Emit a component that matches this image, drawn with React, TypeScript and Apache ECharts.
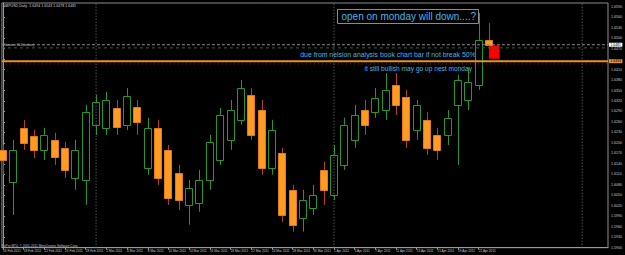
import { useEffect, useRef } from "react";
import * as echarts from "echarts";

const dates = [
  "16 Feb 2011", "17 Feb 2011", "18 Feb 2011", "21 Feb 2011", "22 Feb 2011", "23 Feb 2011", "24 Feb 2011", "25 Feb 2011",
  "28 Feb 2011", "1 Mar 2011", "2 Mar 2011", "3 Mar 2011", "4 Mar 2011", "7 Mar 2011", "8 Mar 2011", "9 Mar 2011",
  "10 Mar 2011", "11 Mar 2011", "14 Mar 2011", "15 Mar 2011", "16 Mar 2011", "17 Mar 2011", "18 Mar 2011", "21 Mar 2011",
  "22 Mar 2011", "23 Mar 2011", "24 Mar 2011", "25 Mar 2011", "28 Mar 2011", "29 Mar 2011", "30 Mar 2011", "31 Mar 2011",
  "1 Apr 2011", "4 Apr 2011", "5 Apr 2011", "6 Apr 2011", "7 Apr 2011", "8 Apr 2011", "11 Apr 2011", "12 Apr 2011",
  "13 Apr 2011", "14 Apr 2011", "15 Apr 2011", "18 Apr 2011", "19 Apr 2011", "20 Apr 2011", "21 Apr 2011", "22 Apr 2011",
];

const opens = [
  1.6180, 1.6089, 1.6243, 1.6220, 1.6180, 1.6209, 1.6186, 1.6100, 1.6094, 1.6252, 1.6243, 1.6300,
  1.6252, 1.6303, 1.6129, 1.6243, 1.6180, 1.6114, 1.6023, 1.6028, 1.6094, 1.6151, 1.6209, 1.6266,
  1.6337, 1.6294, 1.6129, 1.6171, 1.6066, 1.5986, 1.6014, 1.6123, 1.6051, 1.6137, 1.6209, 1.6294,
  1.6289, 1.6294, 1.6366, 1.6332, 1.6237, 1.6266, 1.6223, 1.6223, 1.6309, 1.6323, 1.6366, 1.6494,
];
const highs = [
  1.6194, 1.6209, 1.6266, 1.6237, 1.6243, 1.6229, 1.6203, 1.6209, 1.6309, 1.6337, 1.6346, 1.6323,
  1.6357, 1.6323, 1.6272, 1.6266, 1.6194, 1.6137, 1.6094, 1.6123, 1.6223, 1.6300, 1.6323, 1.6380,
  1.6357, 1.6323, 1.6266, 1.6186, 1.6080, 1.6066, 1.6080, 1.6146, 1.6194, 1.6272, 1.6309, 1.6323,
  1.6357, 1.6400, 1.6400, 1.6352, 1.6323, 1.6289, 1.6243, 1.6294, 1.6395, 1.6415, 1.6572, 1.6543,
];
const lows = [
  1.6109, 1.5994, 1.6180, 1.6157, 1.6151, 1.6137, 1.6100, 1.6066, 1.6023, 1.6223, 1.6223, 1.6223,
  1.6237, 1.6223, 1.6109, 1.6080, 1.6023, 1.6008, 1.5966, 1.6003, 1.6066, 1.6137, 1.6180, 1.6252,
  1.6209, 1.6109, 1.6109, 1.5974, 1.5946, 1.5946, 1.5994, 1.6023, 1.6037, 1.6123, 1.6186, 1.6223,
  1.6272, 1.6266, 1.6280, 1.6186, 1.6209, 1.6166, 1.6151, 1.6194, 1.6137, 1.6294, 1.6352, 1.6478,
];
const closes = [
  1.6151, 1.6180, 1.6200, 1.6180, 1.6223, 1.6160, 1.6123, 1.6180, 1.6289, 1.6317, 1.6323, 1.6246,
  1.6335, 1.6260, 1.6243, 1.6100, 1.6043, 1.6037, 1.6071, 1.6094, 1.6203, 1.6280, 1.6294, 1.6357,
  1.6223, 1.6129, 1.6237, 1.5994, 1.5966, 1.6037, 1.6051, 1.6066, 1.6166, 1.6252, 1.6280, 1.6252,
  1.6329, 1.6352, 1.6309, 1.6209, 1.6309, 1.6186, 1.6180, 1.6272, 1.6380, 1.6375, 1.6495, 1.6481,
];

const dateLabelIdx = [0, 2, 4, 6, 8, 10, 12, 14, 16, 18, 20, 22, 24, 26, 28, 30, 32, 34, 36, 38, 40, 42, 44, 46];
const priceTicks = [
  1.5900, 1.5930, 1.5960, 1.5990, 1.6020, 1.6050, 1.6080, 1.6110, 1.6140, 1.6170, 1.6200, 1.6230,
  1.6260, 1.6290, 1.6320, 1.6350, 1.6380, 1.6410, 1.6440, 1.6470, 1.6500, 1.6530, 1.6560, 1.6590,
];
// the 1.6440 label sits under the orange level box, as on the reference
const priceLabels = [
  1.5900, 1.5930, 1.5960, 1.5990, 1.6020, 1.6050, 1.6080, 1.6110, 1.6140, 1.6170, 1.6200, 1.6230,
  1.6260, 1.6290, 1.6320, 1.6350, 1.6380, 1.6410, 1.6470, 1.6500, 1.6530, 1.6560, 1.6590,
];
const periodSeparators = [9, 32, 56];
const bidPrice = 1.6481;
const fiftyLevel = 1.6434;
const greenDashLevel = 1.6472;
const redDotLevel = 1.6426;
const redBox = [[47, 48, 1.6479, 1.6441]];

const symbolTitle = "GBPUSD,Daily  1.6494 1.6543 1.6478 1.6481";
const lineLabel = "Fibonacci 50.0 (nelson)";
const copyright = "FxPro MT4, \u00a9 2001-2011 MetaQuotes Software Corp.";
const noteBig = "open on monday will down....?";
const note1 = "due from nelsion analysis book chart bar if not break 50%";
const note2 = "it still bullish may go up nest monday";

const X_MIN = -0.105;
const X_MAX = 58.5;
const Y_MIN = 1.59;
const Y_MAX = 1.66005;

export default function App() {
  const ref = useRef<HTMLDivElement>(null);
  useEffect(() => {
    document.body.style.margin = "0";
    document.body.style.background = "#000";
    if (!ref.current) return;
    const chart = echarts.init(ref.current, undefined, { renderer: "svg" });

    const candleData = opens.map((o, i) => [i, o, highs[i], lows[i], closes[i]]);
    const hline = (p: number) => [[X_MIN, p], [X_MAX, p]];
    const vline = (x: number) => [[x, Y_MIN], [x, Y_MAX]];
    const axisFont = "Liberation Sans";

    const option: any = {
      animation: false,
      backgroundColor: "#000000",
      grid: {
        left: 1, right: 12.7, top: 3, bottom: 7.3,
        show: true, borderColor: "#8c8c8c", borderWidth: 1, backgroundColor: "#000",
      },
      xAxis: {
        type: "value", min: X_MIN, max: X_MAX,
        splitLine: { show: false },
        axisLine: { show: true, onZero: false, lineStyle: { color: "#9a9a9a", width: 1 } },
        axisTick: { show: true, customValues: dateLabelIdx, length: 2, lineStyle: { color: "#9a9a9a" } },
        axisLabel: {
          customValues: dateLabelIdx,
          formatter: (v: number) => dates[Math.round(v)] ?? "",
          color: "#c8c8c8", fontSize: 3.2, fontFamily: axisFont, align: "left", margin: 1.5,
        },
      },
      yAxis: {
        type: "value", position: "right", min: Y_MIN, max: Y_MAX, interval: 0.003,
        splitLine: { show: false },
        axisLine: { show: true, lineStyle: { color: "#9a9a9a", width: 1 } },
        axisTick: { show: true, customValues: priceTicks, length: 2, lineStyle: { color: "#9a9a9a" } },
        axisLabel: {
          customValues: priceLabels,
          formatter: (v: number) => v.toFixed(4),
          color: "#c8c8c8", fontSize: 3.6, fontFamily: axisFont, margin: 3,
        },
      },
      series: [
        ...periodSeparators.map((x) => ({
          type: "line", data: vline(x), symbol: "none", silent: true,
          lineStyle: { color: "#7a7a7a", width: 1, type: [1, 2] },
        })),
        {
          type: "line", data: hline(greenDashLevel), symbol: "none", silent: true,
          lineStyle: { color: "#2c6a2c", width: 1, type: [3, 3] },
        },
        {
          type: "line", data: hline(redDotLevel), symbol: "none", silent: true,
          lineStyle: { color: "#7a1c1c", width: 1, type: [1, 3] },
        },
        {
          type: "custom",
          data: redBox,
          silent: true,
          renderItem: (_p: any, api: any) => {
            const a = api.coord([api.value(0), api.value(2)]);
            const b = api.coord([api.value(1), api.value(3)]);
            return {
              type: "rect",
              shape: { x: a[0], y: a[1], width: b[0] - a[0], height: b[1] - a[1] },
              style: { fill: "#ff0000" },
            };
          },
        },
        {
          type: "line", data: hline(bidPrice), symbol: "none", silent: true,
          lineStyle: { color: "#8a8a8a", width: 1, type: [3, 2] },
          endLabel: {
            show: true, formatter: () => bidPrice.toFixed(4), color: "#000", backgroundColor: "#ffffff",
            fontSize: 3.4, fontFamily: axisFont, padding: [0.5, 1.5, 0.5, 1.5], distance: 1,
          },
        },
        {
          type: "line", data: hline(fiftyLevel), symbol: "none", silent: true,
          lineStyle: { color: "#e8902a", width: 2 },
          endLabel: {
            show: true, formatter: () => fiftyLevel.toFixed(4), color: "#000", backgroundColor: "#e8902a",
            fontSize: 3.4, fontFamily: axisFont, padding: [0.5, 1.5, 0.5, 1.5], distance: 1,
          },
        },
        {
          type: "custom",
          data: candleData,
          encode: { x: 0, y: [1, 2, 3, 4] },
          silent: true,
          renderItem: (_p: any, api: any) => {
            const i = api.value(0);
            const o = api.value(1), h = api.value(2), l = api.value(3), c = api.value(4);
            const pO = api.coord([i, o]);
            const yC = api.coord([i, c])[1];
            const yH = api.coord([i, h])[1];
            const yL = api.coord([i, l])[1];
            const col = Math.round(pO[0]);
            const cx = col + 0.5;
            const bull = c >= o;
            const top = Math.min(pO[1], yC);
            const bot = Math.max(pO[1], yC);
            const wick = bull ? "#2a962a" : "#b0402a";
            return {
              type: "group",
              children: [
                { type: "line", shape: { x1: cx, y1: yH, x2: cx, y2: top }, style: { stroke: wick, lineWidth: 1 } },
                { type: "line", shape: { x1: cx, y1: bot, x2: cx, y2: yL }, style: { stroke: wick, lineWidth: 1 } },
                {
                  type: "rect",
                  shape: { x: col - 3.5, y: Math.round(top) + 0.5, width: 7, height: Math.max(Math.round(bot - top), 1) },
                  style: { fill: bull ? "#000000" : "#ff9a22", stroke: bull ? "#2a962a" : "#e07a1a", lineWidth: 1 },
                },
              ],
            };
          },
        },
      ],
      graphic: [
        { type: "text", left: 3, top: 3.5, style: { text: symbolTitle, fill: "#d0d0d0", fontSize: 3.6, fontFamily: axisFont } },
        { type: "text", left: 3, top: 43.5, style: { text: lineLabel, fill: "#c8c8c8", fontSize: 3, fontFamily: axisFont } },
        { type: "text", left: 2, top: 244.5, style: { text: copyright, fill: "#c0c0c0", fontSize: 3.2, fontFamily: axisFont } },
        {
          type: "rect", shape: { x: 337.5, y: 9.5, width: 141, height: 14 },
          style: { fill: "none", stroke: "#8c8c8c", lineWidth: 1 },
        },
        {
          type: "text", x: 476, y: 16.7,
          style: { text: noteBig, fill: "#45b4e6", fontSize: 10, fontFamily: "Liberation Sans", align: "right", verticalAlign: "middle" },
        },
        {
          type: "text", x: 475.7, y: 54.5,
          style: { text: note1, fill: "#45b4e6", fontSize: 6.9, fontFamily: "Liberation Sans", align: "right", verticalAlign: "middle" },
        },
        {
          type: "text", x: 472, y: 68.3,
          style: { text: note2, fill: "#45b4e6", fontSize: 6.6, fontFamily: "Liberation Sans", align: "right", verticalAlign: "middle" },
        },
      ],
    };
    chart.setOption(option);
    return () => chart.dispose();
  }, []);
  return <div ref={ref} style={{ width: 625, height: 255, background: "#000" }} />;
}
